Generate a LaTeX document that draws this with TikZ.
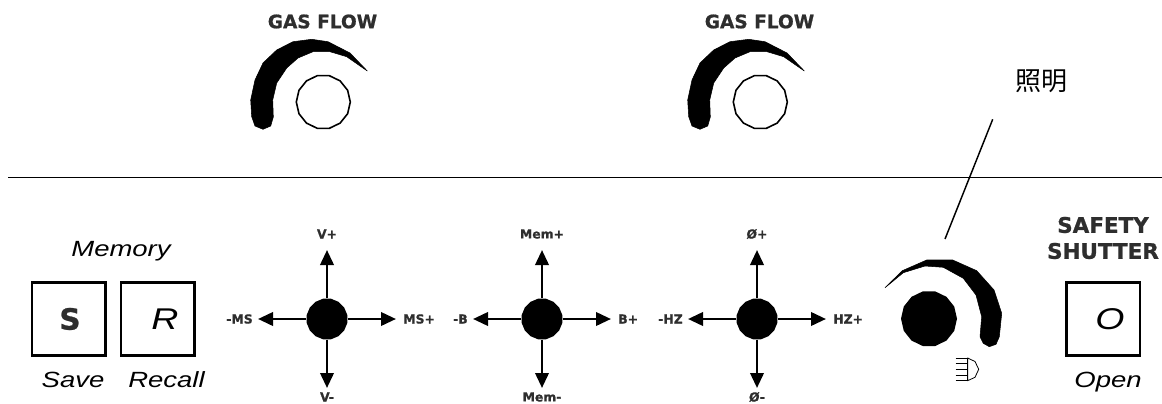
\documentclass[tikz,border=0pt]{standalone}
\usepackage{fontspec}
\usetikzlibrary{arrows.meta,shapes.geometric}
\setmainfont{DejaVu Sans}
\newfontfamily\heavyfont[FakeBold=0.9]{DejaVu Sans Bold}
\newfontfamily\slfont[FakeStretch=1.25]{Liberation Sans}
\newfontfamily\cjkfont{Noto Sans CJK SC}
\definecolor{lblgray}{HTML}{2E2E2E}
\tikzset{
  px/.style={x=0.75pt,y=-0.75pt},
  hub/.style={regular polygon,regular polygon sides=16,fill=black,draw=none,minimum size=31pt,inner sep=0pt},
  ringknob/.style={regular polygon,regular polygon sides=14,draw=black,fill=white,line width=1.2pt,minimum size=40.5pt,inner sep=0pt},
  darkknob/.style={regular polygon,regular polygon sides=14,fill=black,draw=none,minimum size=42pt,inner sep=0pt},
  crossarrow/.style={draw=black,line width=2pt,-{Triangle[length=11.25pt,width=10pt]}},
  smalllabel/.style={font=\heavyfont\fontsize{9.3pt}{10pt}\selectfont,text=lblgray,inner sep=0pt},
  biglabel/.style={font=\heavyfont\fontsize{13.9pt}{15pt}\selectfont,text=lblgray,inner sep=0pt},
  shutterlabel/.style={font=\heavyfont\fontsize{16.1pt}{17pt}\selectfont,text=lblgray,inner sep=0pt},
  slantlabel/.style={font=\slfont\itshape\fontsize{16.5pt}{18pt}\selectfont,text=black,inner sep=0pt,anchor=base},
  keyletter/.style={font=\slfont\itshape\fontsize{22.5pt}{24pt}\selectfont,text=black,inner sep=0pt},
  keybox/.style={draw=black,line width=1.9pt,minimum size=55pt,inner sep=0pt},
  crescent/.style={fill=black,draw=black,line width=0.4pt,line join=round},
  thinline/.style={draw=black,line width=0.7pt},
  leader/.style={draw=black,line width=1.1pt},
  lampline/.style={draw=black,line width=0.6pt},
}
\newcommand{\gasknob}[2]{%
  \begin{scope}[shift={(#1,0)}]
    \fill[crescent] (367.3,71) -- (350,53) -- (328,41.7) -- (311.7,39.3) -- (293,41.7) -- (276.7,50)
      -- (263,63) -- (255,80) -- (250.7,100) -- (251.7,116.7) -- (255,126) -- (263,129.3)
      -- (270.7,126) -- (273.3,117) -- (272.7,100) -- (276.7,83) -- (286.7,68) -- (298,58)
      -- (313,51.7) -- (330,51.7) -- (346.7,56.7) -- cycle;
    \node[ringknob] (ring#2) at (323.3,102) {};
    \node[biglabel] (gas#2) at (322.5,21.5) {GAS FLOW};
  \end{scope}}
\newcommand{\crosspad}[7]{%
  \node[hub] (hub#1) at (#2,319) {};
  \coordinate (up#1) at (#2,250);
  \coordinate (dn#1) at (#2,388);
  \coordinate (lf#1) at (#2-69,319);
  \coordinate (rt#1) at (#2+69,319);
  \draw[crossarrow] (hub#1) -- (up#1);
  \draw[crossarrow] (hub#1) -- (dn#1);
  \draw[crossarrow] (hub#1) -- (lf#1);
  \draw[crossarrow] (hub#1) -- (rt#1);
  \node[smalllabel] (top#1) at (#2,234) {#3};
  \node[smalllabel] (bot#1) at (#2,397) {#4};
  \node[smalllabel,anchor=east] (west#1) at (#2-#6,319) {#5};
  \node[smalllabel,anchor=west] (east#1) at (#2+76,319) {#7};}
\begin{document}
\begin{tikzpicture}[px]
\useasboundingbox (0,0) rectangle (1162,403);
% divider
\coordinate (divL) at (8,177.5);
\coordinate (divR) at (1162,177.5);
\draw[thinline] (divL) -- (divR);
% gas flow knobs
\gasknob{0}{A}
\gasknob{437}{B}
% memory keys
\node[slantlabel] (memory) at (121,256) {Memory};
\node[keybox] (keyS) at (68.8,319) {};
\node[keybox] (keyR) at (157.8,319) {};
\node[font=\heavyfont\fontsize{22pt}{24pt}\selectfont,text=lblgray,inner sep=0pt] (letS) at (70,319) {S};
\node[keyletter] (letR) at (165,319) {R};
\node[slantlabel] (save) at (73,387.5) {Save};
\node[slantlabel] (recall) at (166.5,387.5) {Recall};
% cross pads
\crosspad{V}{327}{V+}{V-}{-MS}{74}{MS+}
\crosspad{M}{542}{Mem+}{Mem-}{-B}{74}{B+}
\crosspad{H}{757}{Ø+}{Ø-}{-HZ}{74}{HZ+}
% lamp knob
\fill[crescent] (885,287.7) -- (902.3,270.7) -- (926.7,260) -- (952.7,260) -- (976.7,270.7)
  -- (994,290) -- (1001.7,313.3) -- (999.3,336.7) -- (996,344.3) -- (989.3,346.7)
  -- (983.3,343.3) -- (980,336.7) -- (981.7,316.7) -- (976,295) -- (963.3,278.3)
  -- (943.3,267.3) -- (925,266) -- (903.3,272.7) -- cycle;
\node[darkknob] (lampknob) at (929,318.7) {};
\draw[lampline] (955.7,358) -- (967.6,358) (955.7,363.7) -- (967.6,363.7) (955.7,369.3) -- (967.6,369.3)
  (955.7,375) -- (967.6,375) (955.7,380.7) -- (967.6,380.7);
\draw[lampline,line join=round] (967.6,358) -- (975,361.5) -- (978.7,369.3) -- (975,377.3) -- (967.6,380.7) -- cycle;
% leader
\node[font=\cjkfont\fontsize{19.5pt}{21pt}\selectfont,text=black,inner sep=0pt] (lamp) at (1041.7,81.7) {照明};
\coordinate (leadTop) at (992.7,119.3);
\coordinate (leadBot) at (945,239);
\draw[leader] (leadTop) -- (leadBot);
% shutter
\node[shutterlabel] (safety) at (1103,225) {SAFETY};
\node[shutterlabel] (shutter) at (1103,251) {SHUTTER};
\node[keybox] (keyO) at (1103.3,319) {};
\node[keyletter] (letO) at (1110,319) {O};
\node[slantlabel] (open) at (1108,387.5) {Open};
\end{tikzpicture}
\end{document}
